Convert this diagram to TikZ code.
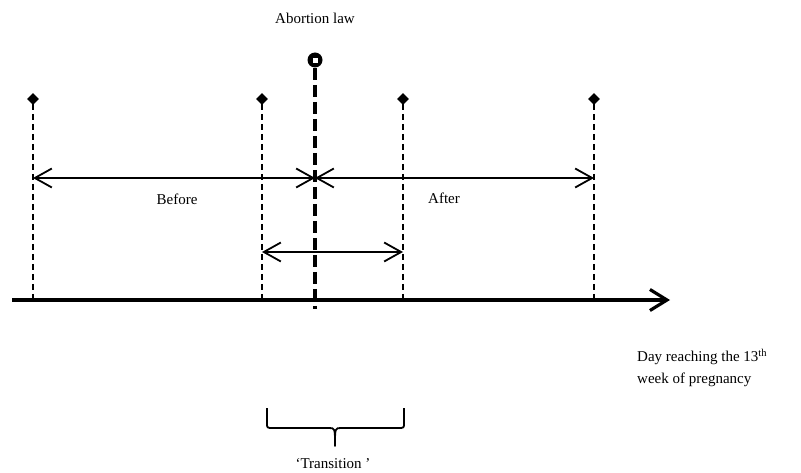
\documentclass[tikz,border=0pt]{standalone}
\usepackage{fontspec}
\setmainfont{Liberation Serif}
\usetikzlibrary{arrows.meta,shapes.geometric}
\begin{document}
\begin{tikzpicture}[x=1pt,y=-1pt,
  vdash/.style={line width=1.8pt,dash pattern=on 6pt off 4pt},
  lawline/.style={line width=4.5pt,dash pattern=on 12pt off 5pt},
  dblarrow/.style={line width=1.8pt,{Straight Barb[length=17pt,width=19pt,line width=1.8pt]}-{Straight Barb[length=17pt,width=19pt,line width=1.8pt]}},
  dmark/.style={diamond,fill=black,inner sep=0pt,minimum size=12pt},
  lbl/.style={font=\fontsize{15pt}{18pt}\selectfont,inner sep=0pt}]
\useasboundingbox (0,0) rectangle (801,473);
% diamonds and dashed verticals
\foreach \n/\x in {a/33,b/262,c/403,d/594}{
  \node[dmark] (m\n) at (\x,99) {};
  \coordinate (t\n) at (\x,104);
  \coordinate (g\n) at (\x,300);
  \draw[vdash] (t\n) -- (g\n);
}
% axis
\coordinate (axs) at (12,300);
\coordinate (axe) at (670,300);
\draw[line width=3.2pt,-{Straight Barb[length=17pt,width=21pt,line width=3.2pt]}] (axs) -- (axe);
% law line
\coordinate (lawtop) at (315,68);
\coordinate (lawend) at (315,309);
\draw[lawline] (lawtop) -- (lawend);
\node[circle,fill=black,minimum size=15pt,inner sep=0pt] (law) at (315,60) {};
\node[fill=white,minimum size=5pt,inner sep=0pt] (lawsq) at (315,61) {};
\node[lbl] (lawtxt) at (315,18) {Abortion law};
% arrows
\coordinate (ma) at (33,178);
\coordinate (mc) at (315,178);
\coordinate (md) at (594,178);
\draw[dblarrow] (ma) -- (mc);
\draw[dblarrow] (mc) -- (md);
\coordinate (tb) at (262,252);
\coordinate (tc) at (403,252);
\draw[dblarrow] (tb) -- (tc);
\node[lbl] (before) at (177,199) {Before};
\node[lbl] (after) at (444,198) {After};
% brace
\coordinate (bl) at (267,408);
\coordinate (br) at (404,408);
\coordinate (btip) at (335,446);
\draw[line width=1.8pt,line join=round] (bl) -- ++(0,15) .. controls (267,428) .. (273,428)
  -- (329,428) .. controls (335,428) .. (btip)
  .. controls (335,428) .. (341,428) -- (398,428) .. controls (404,428) .. (404,423) -- (br);
\node[lbl] (trans) at (333,464) {‘Transition ’};
% axis label
\node[lbl,anchor=west] (ax1) at (637,357) {Day reaching the 13\textsuperscript{th}};
\node[lbl,anchor=west] (ax2) at (637,380) {week of pregnancy};
\end{tikzpicture}
\end{document}
